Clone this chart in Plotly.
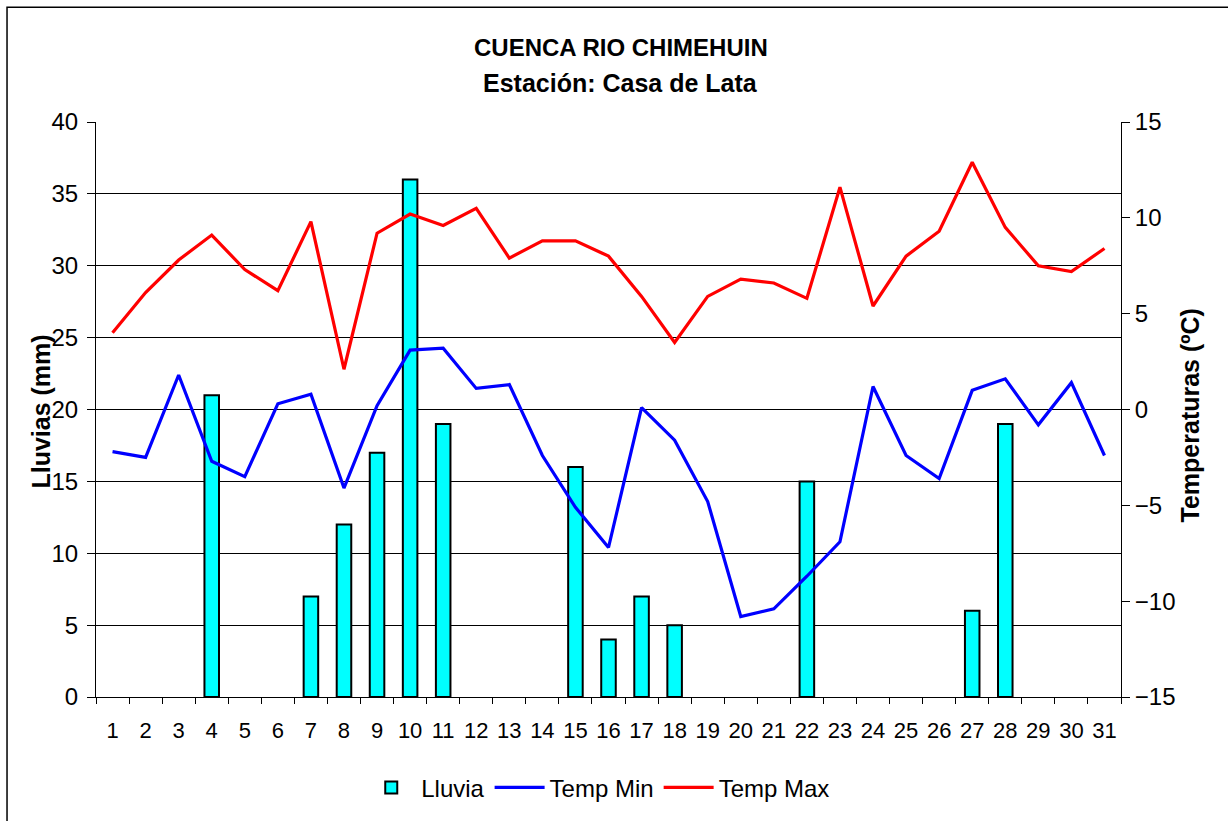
import plotly.graph_objects as go

days = [str(d) for d in range(1, 32)]
lluvia = [0, 0, 0, 21, 0, 0, 7, 12, 17, 36, 19, 0, 0, 0, 16, 4, 7, 5, 0, 0,
          0, 15, 0, 0, 0, 0, 6, 19, 0, 0, 0]
temp_min = [-2.2, -2.5, 1.8, -2.7, -3.5, 0.3, 0.8, -4.1, 0.2, 3.1, 3.2, 1.1, 1.3, -2.4, -5.1, -7.2,
            0.1, -1.6, -4.8, -10.8, -10.4, -8.7, -6.9, 1.2, -2.4, -3.6, 1.0, 1.6, -0.8, 1.4, -2.4]
temp_max = [4.0, 6.1, 7.8, 9.1, 7.3, 6.2, 9.8, 2.1, 9.2, 10.2, 9.6, 10.5, 7.9, 8.8, 8.8, 8.0,
            5.9, 3.5, 5.9, 6.8, 6.6, 5.8, 11.6, 5.4, 8.0, 9.3, 12.9, 9.5, 7.5, 7.2, 8.4]

FONT = "Liberation Sans, Arial, sans-serif"

fig = go.Figure()
fig.add_trace(go.Bar(x=days, y=[v if v > 0 else None for v in lluvia], name="Lluvia", yaxis="y",
                     marker=dict(color="#00FFFF", line=dict(color="black", width=2))))
fig.add_trace(go.Scatter(x=days, y=temp_min, name="Temp Min", yaxis="y2", mode="lines",
                         line=dict(color="#0000FF", width=3.2)))
fig.add_trace(go.Scatter(x=days, y=temp_max, name="Temp Max", yaxis="y2", mode="lines",
                         line=dict(color="#FF0000", width=3.2)))

fig.update_layout(
    width=1228, height=821,
    margin=dict(l=96, r=107, t=122, b=123),
    paper_bgcolor="white", plot_bgcolor="white",
    font=dict(family=FONT, color="black", size=23),
    bargap=0.56,
    showlegend=True,
    legend=dict(orientation="h", x=0.49, y=-0.156, xanchor="center", yanchor="middle",
                font=dict(size=24, family=FONT), itemwidth=50, traceorder="normal"),
    xaxis=dict(type="category", tickson="boundaries", ticks="outside", ticklen=6,
               tickcolor="black", tickwidth=1, showline=True, linecolor="black", linewidth=1,
               showgrid=False, tickfont=dict(size=22), tickangle=0, range=[-0.5, 30.5],
               ticklabelstandoff=14),
    yaxis=dict(range=[0, 40], dtick=5, ticks="outside", ticklen=8, tickcolor="black",
               showline=True, linecolor="black", linewidth=1, showgrid=True,
               gridcolor="black", gridwidth=1, zeroline=False, tickfont=dict(size=24),
               ticklabelstandoff=4),
    yaxis2=dict(range=[-15, 15], dtick=5, overlaying="y", side="right", ticks="outside",
                ticklen=8, tickcolor="black", showline=True, linecolor="black", linewidth=1,
                showgrid=False, zeroline=False, tickfont=dict(size=24)),
    annotations=[
        dict(text="<b>CUENCA RIO CHIMEHUIN</b>", xref="paper", yref="paper", x=0.512, y=1.130,
             showarrow=False, font=dict(size=24, family=FONT), xanchor="center", yanchor="middle"),
        dict(text="<b>Estación: Casa de Lata</b>", xref="paper", yref="paper", x=0.512, y=1.068,
             showarrow=False, font=dict(size=25, family=FONT), xanchor="center", yanchor="middle"),
        dict(text="<b>Lluvias (mm)</b>", xref="paper", yref="paper", x=-0.0546, y=0.4965,
             textangle=-90, showarrow=False, font=dict(size=25, family=FONT),
             xanchor="center", yanchor="middle"),
        dict(text="<b>Temperaturas (ºC)</b>", xref="paper", yref="paper", x=1.0673, y=0.4896,
             textangle=-90, showarrow=False, font=dict(size=25, family=FONT),
             xanchor="center", yanchor="middle"),
    ],
    shapes=[
        dict(type="rect", xref="paper", yref="paper", x0=-0.0868, y0=-0.235, x1=1.12, y1=1.1997,
             line=dict(color="black", width=1.5), fillcolor="rgba(0,0,0,0)", layer="below"),
    ],
)

fig.write_html("out.html", config={"displayModeBar": False},
               post_script="document.body.style.margin='0';")
